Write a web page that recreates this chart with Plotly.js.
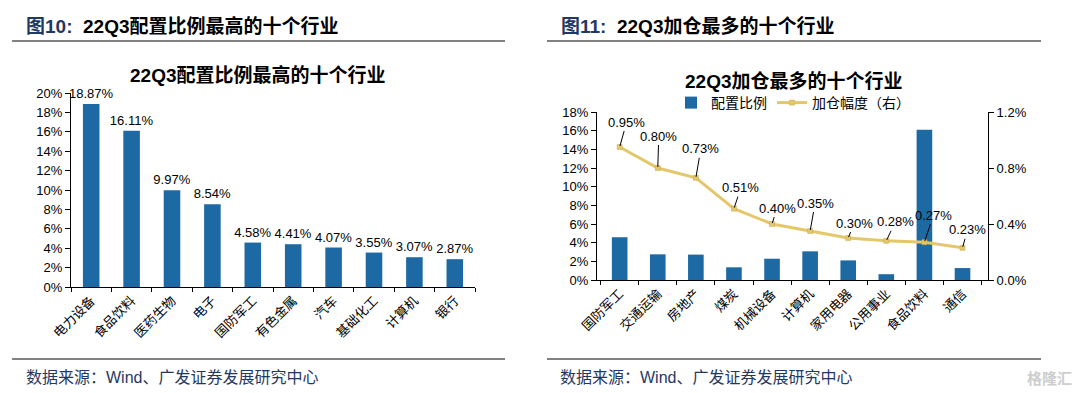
<!DOCTYPE html>
<html>
<head>
<meta charset="utf-8">
<script src="https://cdn.plot.ly/plotly-3.0.1.min.js"></script>
<style>html,body{margin:0;padding:0;background:#fff;}#chart{width:1080px;height:393px;}</style>
</head>
<body>
<div id="chart"></div>
<script>
// ---- Data ----
var leftCategories = ["电力设备","食品饮料","医药生物","电子","国防军工","有色金属","汽车","基础化工","计算机","银行"];
var leftValues = [18.87, 16.11, 9.97, 8.54, 4.58, 4.41, 4.07, 3.55, 3.07, 2.87];

var rightCategories = ["国防军工","交通运输","房地产","煤炭","机械设备","计算机","家用电器","公用事业","食品饮料","通信"];
var rightAllocation = [4.58, 2.75, 2.72, 1.36, 2.28, 3.07, 2.10, 0.62, 16.11, 1.28];
var rightIncrease = [0.95, 0.80, 0.73, 0.51, 0.40, 0.35, 0.30, 0.28, 0.27, 0.23];

var leftYTicks = [0,2,4,6,8,10,12,14,16,18,20];
var rightYTicks = [0,2,4,6,8,10,12,14,16,18];
var rightY2Ticks = [0,0.4,0.8,1.2];

// label offsets (layout only)
var labelAx = [7, 1, 5, 7, 5, 5, 6, 9, 9, 5];
var labelAy = [-25, -32, -29, -21, -16, -28, -15, -19, -27, -18];

var BAR = "#1C69A4";
var LINE = "#E5C76B";
var NUM = "Liberation Sans, Arial, sans-serif";
var CJK = "Noto Sans CJK SC, sans-serif";
var MIX = "Liberation Sans, Noto Sans CJK SC, sans-serif";

var traces = [
  {type:"bar", x:leftCategories, y:leftValues, xaxis:"x", yaxis:"y", marker:{color:BAR},
   text:leftValues.map(function(v){return v.toFixed(2)+"%";}), textposition:"outside", constraintext:"none",
   textfont:{family:NUM,size:13,color:"#000"}, cliponaxis:false, showlegend:false, hoverinfo:"skip"},
  {type:"bar", name:"配置比例", x:rightCategories, y:rightAllocation, xaxis:"x2", yaxis:"y3",
   marker:{color:BAR}, hoverinfo:"skip"},
  {type:"scatter", mode:"lines+markers", name:"加仓幅度（右）", x:rightCategories, y:rightIncrease,
   xaxis:"x2", yaxis:"y4", line:{color:LINE,width:3}, marker:{symbol:"square",size:5,color:LINE,line:{color:"#C9A94A",width:0.5}},
   hoverinfo:"skip"}
];

var annotations = [];
rightCategories.forEach(function(c,i){
  annotations.push({xref:"x2", yref:"y4", x:c, y:rightIncrease[i], text:rightIncrease[i].toFixed(2)+"%",
    showarrow:true, arrowhead:0, arrowwidth:1, arrowcolor:"#000", ax:labelAx[i], ay:labelAy[i],
    font:{family:NUM,size:13,color:"#000"}, standoff:1});
});

// headers, titles, sources
annotations.push(
  {xref:"paper",yref:"paper",x:24/1080,y:1-26/393,xanchor:"left",yanchor:"middle",showarrow:false,
   text:"<b><span style='color:#1F3864'>图10:</span>  22Q3配置比例最高的十个行业</b>",font:{family:MIX,size:19,color:"#000"}},
  {xref:"paper",yref:"paper",x:559/1080,y:1-26/393,xanchor:"left",yanchor:"middle",showarrow:false,
   text:"<b><span style='color:#1F3864'>图11:</span>  22Q3加仓最多的十个行业</b>",font:{family:MIX,size:19,color:"#000"}},
  {xref:"paper",yref:"paper",x:257/1080,y:1-75/393,xanchor:"center",yanchor:"middle",showarrow:false,
   text:"<b>22Q3配置比例最高的十个行业</b>",font:{family:MIX,size:19,color:"#000"}},
  {xref:"paper",yref:"paper",x:793/1080,y:1-82/393,xanchor:"center",yanchor:"middle",showarrow:false,
   text:"<b>22Q3加仓最多的十个行业</b>",font:{family:MIX,size:19,color:"#000"}},
  {xref:"paper",yref:"paper",x:24/1080,y:1-377/393,xanchor:"left",yanchor:"middle",showarrow:false,
   text:"数据来源：Wind、广发证券发展研究中心",font:{family:MIX,size:16,color:"#1F3864"}},
  {xref:"paper",yref:"paper",x:558/1080,y:1-377/393,xanchor:"left",yanchor:"middle",showarrow:false,
   text:"数据来源：Wind、广发证券发展研究中心",font:{family:MIX,size:16,color:"#1F3864"}},
  {xref:"paper",yref:"paper",x:1074/1080,y:1-377/393,xanchor:"right",yanchor:"middle",showarrow:false,
   text:"<b>格隆汇</b>",font:{family:CJK,size:15,color:"#C8C8C8"},opacity:0.9}
);

var shapes = [
  {type:"line",xref:"paper",yref:"paper",x0:12/1080,x1:505/1080,y0:1-41/393,y1:1-41/393,line:{color:"#595959",width:1.5}},
  {type:"line",xref:"paper",yref:"paper",x0:547/1080,x1:1041/1080,y0:1-41/393,y1:1-41/393,line:{color:"#595959",width:1.5}},
  {type:"line",xref:"paper",yref:"paper",x0:12/1080,x1:505/1080,y0:1-359/393,y1:1-359/393,line:{color:"#595959",width:1.5}},
  {type:"line",xref:"paper",yref:"paper",x0:547/1080,x1:1041/1080,y0:1-359/393,y1:1-359/393,line:{color:"#595959",width:1.5}}
];

function xAx(domain){
  return {domain:domain, type:"category", showline:true, linecolor:"#000", linewidth:1, ticks:"outside",
    tickson:"boundaries", ticklen:4, tickcolor:"#000", tickangle:-45, tickfont:{family:CJK,size:13,color:"#000"},
    showgrid:false, zeroline:false, fixedrange:true};
}
function yAx(domain, range, tickvals, fmt, side){
  return {domain:domain, range:range, tickvals:tickvals, ticktext:tickvals.map(fmt), showline:true, linecolor:"#000",
    linewidth:1, ticks:"outside", ticklen:5, tickcolor:"#000", tickfont:{family:NUM,size:13,color:"#000"},
    showgrid:false, zeroline:false, fixedrange:true, side:side||"left"};
}

var layout = {
  width:1080, height:393, margin:{l:0,r:0,t:0,b:0}, paper_bgcolor:"#fff", plot_bgcolor:"rgba(0,0,0,0)",
  bargap:0.59,
  xaxis: Object.assign(xAx([71/1080,475/1080]), {anchor:"y"}),
  yaxis: Object.assign(yAx([1-287/393,1-93/393],[0,20],leftYTicks,function(v){return v+"%";}), {anchor:"x"}),
  xaxis2: Object.assign(xAx([597/1080,988/1080]), {anchor:"y3"}),
  yaxis3: Object.assign(yAx([1-280/393,1-112/393],[0,18],rightYTicks,function(v){return v+"%";}), {anchor:"x2"}),
  yaxis4: Object.assign(yAx([1-280/393,1-112/393],[0,1.2],rightY2Ticks,function(v){return v.toFixed(1)+"%";},"right"), {anchor:"x2", overlaying:"y3"}),
  showlegend:true,
  legend:{orientation:"h", x:793/1080, xanchor:"center", y:1-103/393, yanchor:"middle",
    font:{family:CJK,size:14,color:"#000"}, bgcolor:"rgba(0,0,0,0)", itemwidth:30, tracegroupgap:0},
  annotations:annotations, shapes:shapes
};

Plotly.newPlot("chart", traces, layout, {staticPlot:true, displayModeBar:false});
</script>
</body>
</html>
